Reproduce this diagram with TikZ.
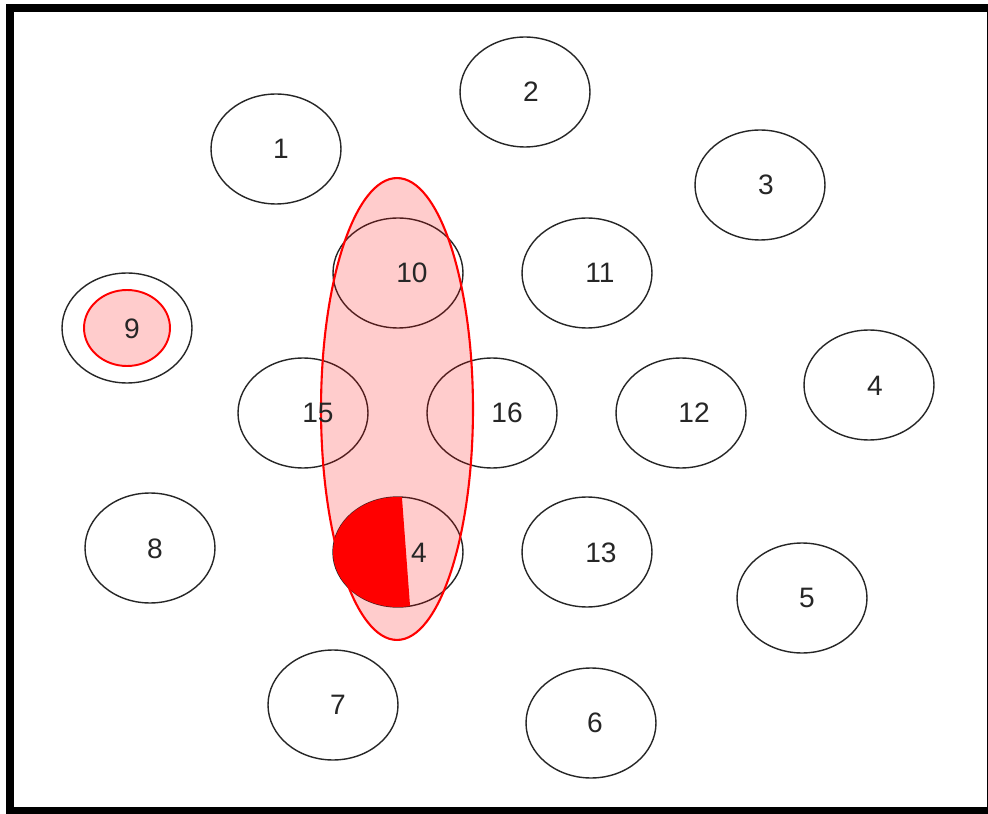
\documentclass[tikz,border=0pt]{standalone}
\usepackage{fontspec}
\setmainfont{Liberation Sans}
\usetikzlibrary{shapes.geometric}

\tikzset{
    bub/.style={ellipse, draw=black!85, line width=0.8pt, minimum width=2.6cm, minimum height=2.2cm, inner sep=0pt},
    num/.style={font=\fontsize{16}{16}\selectfont, text=black!85, inner sep=0pt},
}

\begin{document}
\begin{tikzpicture}[x=0.02cm, y=-0.02cm]
    % 画布范围与外框
    \useasboundingbox (0,0) rectangle (988,814);
    \draw[line width=4.5pt] (10,8) rectangle (990.8,811);

    % 各个椭圆（节点）
    \node[bub] (e1)  at (276,149) {};
    \node[bub] (e2)  at (525,92)  {};
    \node[bub] (e3)  at (760,185) {};
    \node[bub] (e10) at (398,273) {};
    \node[bub] (e11) at (587,273) {};
    \node[bub] (e9)  at (127,328) {};
    \node[bub] (e4)  at (869,385) {};
    \node[bub] (e15) at (303,413) {};
    \node[bub] (e16) at (492,413) {};
    \node[bub] (e12) at (681,413) {};
    \node[bub] (e8)  at (150,548) {};
    \node[bub] (e4b) at (398,552) {};
    \node[bub] (e13) at (587,552) {};
    \node[bub] (e5)  at (802,598) {};
    \node[bub] (e7)  at (333,705) {};
    \node[bub] (e6)  at (591,723) {};

    % 节点 9 的红色内圈
    \node[ellipse, draw=red, line width=1.1pt, fill=red!20, minimum width=1.72cm, minimum height=1.52cm, inner sep=0pt] (e9in) at (127,328) {};

    % 竖直的大红色椭圆（半透明填充）
    \node[ellipse, draw=red, line width=1.2pt, fill=red, fill opacity=0.2, draw opacity=1, minimum width=3.04cm, minimum height=9.24cm, inner sep=0pt] (grp) at (397,409) {};

    % 下方节点 4 的红色部分
    \begin{scope}
        \clip (398,552) ellipse [x radius=65, y radius=55];
        \fill[red] (320,490) -- (401.4,490) -- (410.7,615) -- (320,615) -- cycle;
    \end{scope}

    % 标签
    \node[num] (t1)  at (281,149) {1};
    \node[num] (t2)  at (531,92)  {2};
    \node[num] (t3)  at (766,185) {3};
    \node[num] (t10) at (412,273) {10};
    \node[num] (t11) at (600,273) {11};
    \node[num] (t9)  at (132,329) {9};
    \node[num] (t4)  at (875,386) {4};
    \node[num] (t15) at (318,413) {15};
    \node[num] (t16) at (507,413) {16};
    \node[num] (t12) at (694,413) {12};
    \node[num] (t8)  at (155,549) {8};
    \node[num] (t4b) at (419,553) {4};
    \node[num] (t13) at (601,553) {13};
    \node[num] (t5)  at (807,598) {5};
    \node[num] (t7)  at (338,705) {7};
    \node[num] (t6)  at (595,723) {6};

\end{tikzpicture}
\end{document}
